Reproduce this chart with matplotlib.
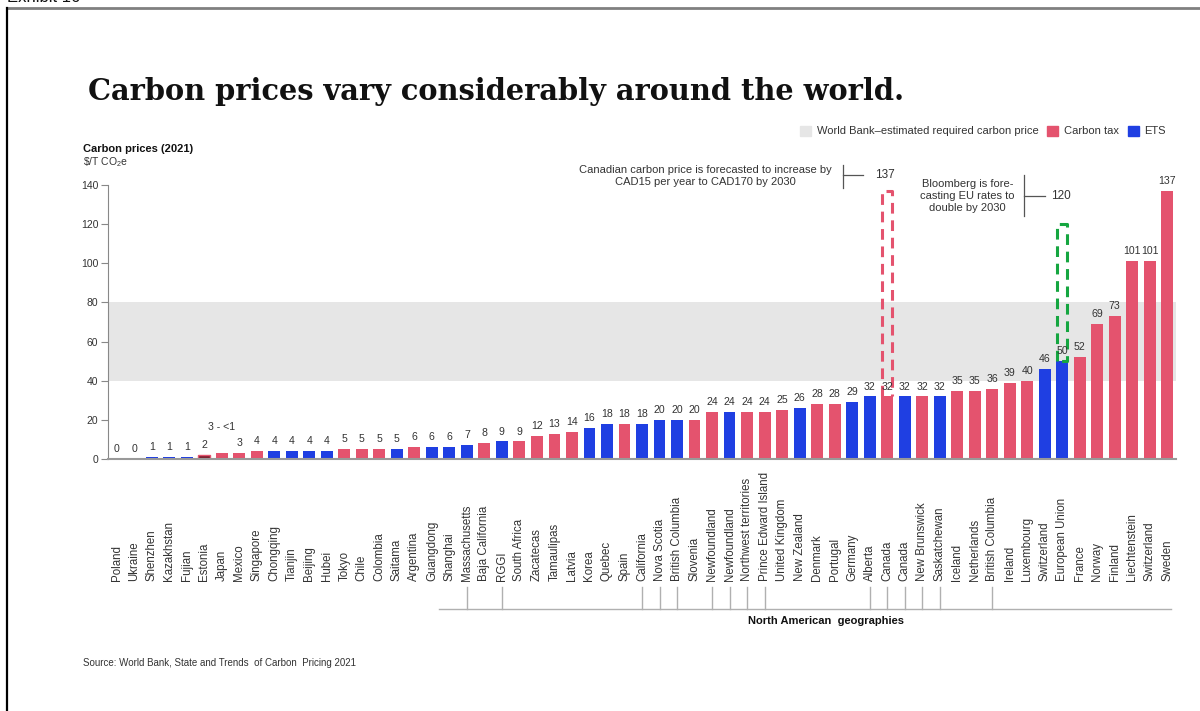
import numpy as np
import matplotlib.pyplot as plt
from matplotlib.patches import Patch
import matplotlib.transforms as mtransforms

plt.rcParams['font.family'] = ['Liberation Sans', 'DejaVu Sans']
plt.rcParams['mathtext.default'] = 'regular'

# Carbon prices 2021, $/t CO2e
names = ["Poland", "Ukraine", "Shenzhen", "Kazakhstan", "Fujian", "Estonia", "Japan",
         "Mexico", "Singapore", "Chongqing", "Tianjin", "Beijing", "Hubei", "Tokyo",
         "Chile", "Colombia", "Saitama", "Argentina", "Guangdong", "Shanghai",
         "Massachusetts", "Baja California", "RGGI", "South Africa", "Zacatecas",
         "Tamaulipas", "Latvia", "Korea", "Quebec", "Spain", "California", "Nova Scotia",
         "British Columbia", "Slovenia", "Newfoundland", "Newfoundland",
         "Northwest territories", "Prince Edward Island", "United Kingdom", "New Zealand",
         "Denmark", "Portugal", "Germany", "Alberta", "Canada", "Canada", "New Brunswick",
         "Saskatchewan", "Iceland", "Netherlands", "British Columbia", "Ireland",
         "Luxembourg", "Switzerland", "European Union", "France", "Norway", "Finland",
         "Liechtenstein", "Switzerland", "Sweden"]
prices = [0, 0, 1, 1, 1, 2, 3, 3, 4, 4, 4, 4, 4, 5, 5, 5, 5, 6, 6, 6, 7, 8, 9, 9, 12,
          13, 14, 16, 18, 18, 18, 20, 20, 20, 24, 24, 24, 24, 25, 26, 28, 28, 29, 32, 32,
          32, 32, 32, 35, 35, 36, 39, 40, 46, 50, 52, 69, 73, 101, 101, 137]
# T = carbon tax, E = emissions trading system
kinds = ("TTEEETTTTEEEETTTETEEETETTTTEETEEETTETTTETTEETETETTTTTEETTTTTT")
value_labels = [str(p) for p in prices]
value_labels[6] = "3 - <1"

# North American geographies get a tick on the bracket below the labels
na_idx = [20, 22, 30, 31, 32, 34, 35, 36, 37, 43, 44, 45, 46, 47, 50]

canada_idx, canada_2030 = 44, 137
eu_idx, eu_2030 = 54, 120

band_lo, band_hi = 40, 80

red = '#e4536e'
blue = '#1f3fe2'
grey_band = '#e6e6e6'
txt = '#333333'

fig = plt.figure(figsize=(12, 7.11), dpi=100)
ax = fig.add_axes([108/1200, 1-459/711, 1068/1200, 274/711])

x = np.arange(len(names))
colors = [red if k == 'T' else blue for k in kinds]
bars = ax.bar(x, prices, width=0.68, color=colors, zorder=3)
bars[5].set_facecolor('#7d1f2f')
bars[5].set_edgecolor(red)

ax.axhspan(band_lo, band_hi, color=grey_band, zorder=0, lw=0)

for i, (p, lab) in enumerate(zip(prices, value_labels)):
    off = 3.5
    if i == 6:
        off = 15
    ax.annotate(lab, (i, p), xytext=(0, off), textcoords='offset points',
                ha='center', va='bottom', fontsize=7.6, color=txt, zorder=5)

# forecast boxes
bw = 0.29
ls = (0, (3.5, 2.2))
ax.plot([canada_idx-bw, canada_idx-bw, canada_idx+bw, canada_idx+bw],
        [prices[canada_idx], canada_2030, canada_2030, prices[canada_idx]],
        color=red, lw=2.2, ls=ls, zorder=4, clip_on=False)
ax.plot([eu_idx-bw, eu_idx-bw, eu_idx+bw, eu_idx+bw, eu_idx-bw],
        [prices[eu_idx], eu_2030, eu_2030, prices[eu_idx], prices[eu_idx]],
        color='#15a640', lw=2.2, ls=ls, zorder=4, clip_on=False)

# callouts
ax.text(33.6, 144.6, "Canadian carbon price is forecasted to increase by\n"
        "CAD15 per year to CAD170 by 2030", ha='center', va='center',
        fontsize=8, color=txt, linespacing=1.3, clip_on=False)
ax.plot([41.5, 41.5], [138.5, 150.2], color='#555', lw=0.9, clip_on=False)
ax.plot([41.5, 42.6], [145, 145], color='#555', lw=0.9, clip_on=False)
ax.text(43.9, canada_2030 + 8, str(canada_2030), ha='center', va='center',
        fontsize=8.5, color=txt)

ax.text(48.6, 134.4, "Bloomberg is fore-\ncasting EU rates to\ndouble by 2030",
        ha='center', va='center', fontsize=8, color=txt, linespacing=1.2)
ax.plot([51.8, 51.8], [124.2, 145.1], color='#555', lw=0.9, clip_on=False)
ax.plot([51.8, 53.0], [134.4, 134.4], color='#555', lw=0.9, clip_on=False)
ax.text(53.9, eu_2030 + 14.4, str(eu_2030), ha='center', va='center',
        fontsize=8.5, color=txt)

ax.set_xlim(-0.5, 60.5)
ax.set_ylim(0, 140)
ax.set_yticks(range(0, 141, 20))
ax.set_xticks([])
ax.tick_params(axis='y', length=5, width=0.8, color='#888', labelsize=7.5,
               labelcolor=txt, pad=2)
for s in ['top', 'right']:
    ax.spines[s].set_visible(False)
ax.spines['left'].set_color('#888')
ax.spines['left'].set_linewidth(0.8)
ax.spines['bottom'].set_color('#999')
ax.spines['bottom'].set_linewidth(1.5)
ax.spines['bottom'].set_zorder(4)

# rotated category labels, bottoms aligned
trans = mtransforms.blended_transform_factory(ax.transData, ax.transAxes)
for i, n in enumerate(names):
    ax.text(i, -0.445, n, rotation=90, ha='center', va='bottom', fontsize=8.3,
            color=txt, transform=trans, clip_on=False)

# bracket for North American geographies
br_y, tk_y = -0.547, -0.467
ax.plot([18.4, 60.2], [br_y, br_y], color='#b0b0b0', lw=1, transform=trans,
        clip_on=False)
for i in na_idx:
    ax.plot([i, i], [br_y, tk_y], color='#b0b0b0', lw=1, transform=trans,
            clip_on=False)
ax.text(40.5, -0.591, "North American  geographies", ha='center', va='center',
        fontsize=8, fontweight='bold', color='#111', transform=trans)

# legend
handles = [Patch(color=grey_band, label='World Bank–estimated required carbon price'),
           Patch(color=red, label='Carbon tax'),
           Patch(color=blue, label='ETS')]
fig.legend(handles=handles, loc='center right', bbox_to_anchor=(1176/1200, 1-131/711),
           ncol=3, frameon=False, fontsize=8, handlelength=1.0, handleheight=1.0,
           handletextpad=0.5, columnspacing=0.8, labelcolor=txt)

# titles and notes
fig.text(88/1200, 1-92/711, "Carbon prices vary considerably around the world.",
         family='DejaVu Serif', fontweight='bold', fontsize=20.8, va='center',
         color='#111')
fig.text(83/1200, 1-149/711, "Carbon prices (2021)", fontsize=8, fontweight='bold',
         va='center', color='#111')
fig.text(83/1200, 1-162/711, "\\$/T CO$_2$e", fontsize=7.5, va='center', color=txt)
fig.text(83/1200, 1-663/711, "Source: World Bank, State and Trends  of Carbon  Pricing 2021",
         fontsize=7, va='center', color=txt)

# page frame
fig.text(0.006, 1-5/711, "Exhibit 16", fontsize=12, va='bottom', color='#111')
fig.add_artist(plt.Line2D([8/1200, 1], [1-8/711, 1-8/711], color='#808080', lw=2,
                          transform=fig.transFigure))
fig.add_artist(plt.Line2D([7/1200, 7/1200], [0, 1-8/711], color='black', lw=1.6,
                          transform=fig.transFigure))

fig.savefig('out.png', dpi=100)
